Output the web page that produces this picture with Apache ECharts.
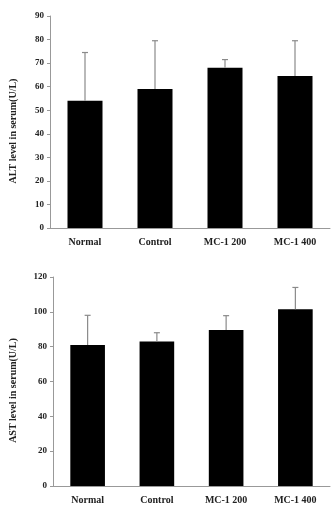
<!DOCTYPE html>
<html>
<head>
<meta charset="utf-8">
<script src="https://cdn.jsdelivr.net/npm/echarts@6/dist/echarts.min.js"></script>
<style>
  html, body { margin: 0; padding: 0; background: #fff; }
  #chart { width: 332px; height: 519px; }
</style>
</head>
<body>
<div id="chart"></div>
<script>
// groups
const categories = ['Normal', 'Control', 'MC-1 200', 'MC-1 400']
// ALT (U/L) mean and SD
const altMean = [54, 59, 68, 64.5]
const altSd = [20.5, 20.5, 3.5, 15]
// AST (U/L) mean and SD
const astMean = [81, 83, 89.5, 101.5]
const astSd = [17, 5, 8.3, 12.5]

const font = 'Liberation Serif'
const chart = echarts.init(document.getElementById('chart'))

// error bar: line going up from bar top with a small cap
const errRender = (params, api) => {
  const x = api.value(0)
  const base = api.coord([x, api.value(1)])
  const top = api.coord([x, api.value(2)])
  const cap = 3
  const style = { stroke: '#8a8a8a', lineWidth: 1.2 }
  return {
    type: 'group',
    children: [
      { type: 'line', shape: { x1: base[0], y1: base[1], x2: top[0], y2: top[1] }, style },
      { type: 'line', shape: { x1: top[0] - cap, y1: top[1], x2: top[0] + cap, y2: top[1] }, style }
    ]
  }
}

const xAxisBase = (gridIndex) => ({
  type: 'category',
  gridIndex,
  data: categories,
  axisLine: { lineStyle: { color: '#999', width: 1 } },
  axisTick: { show: false },
  axisLabel: { color: '#222', fontFamily: font, fontWeight: 'bold', fontSize: 10, margin: 9 }
})

const yAxisBase = (gridIndex, max, interval, name, gap) => ({
  type: 'value',
  gridIndex,
  min: 0,
  max,
  interval,
  name,
  nameLocation: 'middle',
  nameGap: gap,
  nameTextStyle: { color: '#222', fontFamily: font, fontWeight: 'bold', fontSize: 10, padding: [0, 18, 0, 0] },
  axisLine: { show: true, lineStyle: { color: '#999', width: 1 } },
  axisTick: { show: true, length: 3, lineStyle: { color: '#999' } },
  splitLine: { show: false },
  axisLabel: { color: '#222', fontFamily: font, fontWeight: 'bold', fontSize: 9, margin: 6 }
})

const option = {
  animation: false,
  grid: [
    { left: 48, top: 16, width: 282, height: 212 },
    { left: 53, top: 277, width: 277, height: 209 }
  ],
  xAxis: [xAxisBase(0), xAxisBase(1)],
  yAxis: [
    yAxisBase(0, 90, 10, 'ALT level in serum(U/L)', 32),
    yAxisBase(1, 120, 20, 'AST level in serum(U/L)', 35)
  ],
  series: [
    {
      type: 'bar', xAxisIndex: 0, yAxisIndex: 0,
      data: altMean, barWidth: '50%',
      itemStyle: { color: '#000' }
    },
    {
      type: 'custom', xAxisIndex: 0, yAxisIndex: 0,
      renderItem: errRender,
      data: altMean.map((m, i) => [i, m, m + altSd[i]]),
      z: 3
    },
    {
      type: 'bar', xAxisIndex: 1, yAxisIndex: 1,
      data: astMean, barWidth: '50%',
      itemStyle: { color: '#000' }
    },
    {
      type: 'custom', xAxisIndex: 1, yAxisIndex: 1,
      renderItem: errRender,
      data: astMean.map((m, i) => [i, m, m + astSd[i]]),
      z: 3
    }
  ]
}

chart.setOption(option)
</script>
</body>
</html>
